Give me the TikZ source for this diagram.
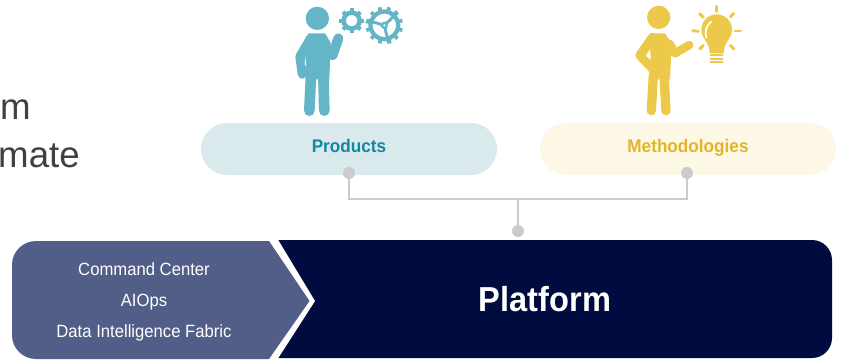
\documentclass[tikz,border=0pt]{standalone}
\usepackage{fontspec}
\setmainfont{Liberation Sans}
\newfontfamily\narrowf[FakeStretch=0.94]{Liberation Sans}
\definecolor{bluefig}{HTML}{65B5C9}
\definecolor{yellowfig}{HTML}{EDC94B}
\definecolor{bluepill}{HTML}{D9E9EC}
\definecolor{yellowpill}{HTML}{FDF8E6}
\definecolor{bluetxt}{HTML}{1587A0}
\definecolor{yellowtxt}{HTML}{E3B52B}
\definecolor{conn}{HTML}{C9CBCC}
\definecolor{navy}{HTML}{000B40}
\definecolor{slateb}{HTML}{525E87}
\definecolor{greytxt}{HTML}{404040}
\tikzset{
  pill/.style={rounded corners=26*0.75pt,minimum width=296*0.75pt,minimum height=52*0.75pt,inner sep=0pt},
  pilltxt/.style={anchor=base,inner sep=0pt,font=\narrowf\bfseries\fontsize{13.7}{16}\selectfont},
  dot/.style={circle,fill=conn,minimum size=9pt,inner sep=0pt},
  link/.style={draw=conn,line width=1.3pt},
  limb/.style={line width=#1*0.25pt,line cap=round,line join=round},
  small/.style={text=white,anchor=base,inner sep=0pt,font=\narrowf\fontsize{13.3}{15}\selectfont},
  body/.style={font=\fontsize{27.5}{32}\selectfont}
}
\begin{document}
\begin{tikzpicture}[x=0.75pt,y=-0.75pt]
\useasboundingbox (0,0) rectangle (844,362);
% cut-off text on left
\begin{scope}
\clip (0,0) rectangle (200,362);
\node[body,anchor=base east,inner sep=0pt,text=greytxt] (tm) at (31,119) {m};
\node[body,anchor=base east,inner sep=0pt,text=greytxt] (tb) at (80,167) {mate};
\end{scope}
% pills
\node[pill,fill=bluepill] (prod) at (349,149) {};
\node[pilltxt,text=bluetxt] (prodt) at (349,152.5) {Products};
\node[pill,fill=yellowpill] (meth) at (688,149) {};
\node[pilltxt,text=yellowtxt] (metht) at (688,152.5) {Methodologies};
% bottom bars
\fill[navy,rounded corners=15pt] (200,240) -- (832,240) -- (832,358) -- (200,358) -- cycle;
\fill[white] (180,238) -- (277,238) -- (315,301) -- (277,360) -- (180,360) -- cycle;
\path[fill=slateb] (269,241) -- (309.5,301) -- (269,359) -- (36,359)
  .. controls (22.7,359) and (12,348.3) .. (12,335) -- (12,265)
  .. controls (12,251.7) and (22.7,241) .. (36,241) -- cycle;
\node[small] (c1) at (144,275) {Command Center};
\node[small] (c2) at (144,306.5) {AIOps};
\node[small] (c3) at (144,337) {Data Intelligence Fabric};
\node[text=white,font=\narrowf\bfseries\fontsize{26}{30}\selectfont] (plat) at (545,299) {Platform};
% connectors
\node[dot] (dp) at (349,173) {};
\node[dot] (dm) at (687,173) {};
\node[dot] (db) at (518,231) {};
\coordinate (j) at (518,199);
\draw[link] (dp) |- (j);
\draw[link] (dm) |- (j);
\draw[link] (db) -- (j);
% blue figure
\begin{scope}[shift={(280,0)},x=0.25pt,y=-0.25pt,fill=bluefig,draw=bluefig]
\fill (112,55) circle[radius=35];
\fill (85,100) -- (135,100) -- (152,128) -- (148,238) -- (78,238) -- (76,170) -- cycle;
\draw[limb=30] (175,115) -- (158,165) -- (146,150);
\draw[limb=28] (92,115) -- (60,170) -- (67,222);
\draw[limb=32] (93,225) -- (88,332);
\draw[limb=32] (130,225) -- (133,332);
\fill[white] (76,175) -- (79,200) -- (74,192) -- cycle;
% small gear
\draw[line width=3.4pt] (215,62) circle[radius=24];
\foreach \a in {0,45,...,315}
  \draw[line width=3pt] (215,62) ++(\a:28) -- ++(\a:9);
% big gear
\draw[line width=3.2pt] (313,76) circle[radius=41.5];
\foreach \a in {15,45,...,345}
  \draw[line width=2.8pt] (313,76) ++(\a:45) -- ++(\a:11);
\fill[even odd rule] (313,76) circle[radius=11] (313,76) circle[radius=4];
\foreach \a in {-50,70,190}
  \draw[line width=2.2pt,line cap=round] (313,76) ++(\a:9) .. controls +(\a+30:10) and +(\a+10:20) .. +(\a:38);
\end{scope}
% yellow figure
\begin{scope}[shift={(620,0)},x=0.25pt,y=-0.25pt,fill=yellowfig,draw=yellowfig]
\fill (116,52) circle[radius=35];
\fill (90,100) -- (135,100) -- (155,130) -- (150,238) -- (88,238) -- cycle;
\draw[limb=25] (150,132) -- (165,160) -- (208,135);
\draw[limb=28] (98,112) -- (60,166) -- (98,206);
\draw[limb=28] (100,225) -- (94,332);
\draw[limb=28] (132,225) -- (138,332);
\fill[white] (79,168) -- (91,152) -- (92,180) -- cycle;
% bulb
\fill (290,89) circle[radius=46];
\fill (254,118) .. controls (266,135) and (268,145) .. (269,160) -- (311,160)
   .. controls (312,145) and (314,135) .. (326,118) -- cycle;
\foreach \yy in {166,176,186}
  \draw[line width=1.4pt,line cap=round] (272,\yy) -- (308,\yy);
\draw[white,line width=1.3pt,line cap=round] (259,113) .. controls (253,95) and (259,74) .. (274,65);
\foreach \xa/\ya/\xb/\yb in {290/19/290/34,341/40/331/51,345/93/362/93,331/136/342/147,250/136/239/147,218/92/235/94,239/41/250/52}
  \draw[line width=2.2pt,line cap=round] (\xa,\ya) -- (\xb,\yb);
\end{scope}
\end{tikzpicture}
\end{document}
